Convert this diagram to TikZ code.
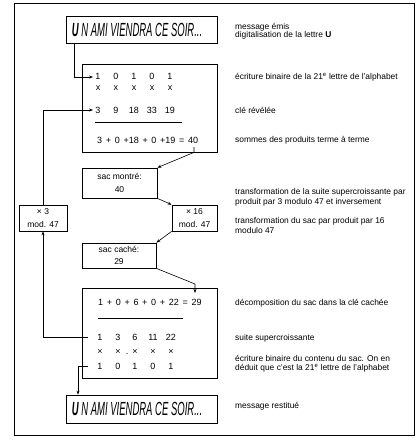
\documentclass[tikz,border=0pt]{standalone}
\usepackage{fontspec}
\setmainfont{Liberation Sans}
\usepackage{graphicx}
\usetikzlibrary{arrows.meta}
\newcommand\eqg{\hspace{3.7pt}}
\newcommand\msgtext{\scalebox{0.5}[1]{\fontsize{19}{19}\selectfont\itshape\textbf{U} N AMI VIENDRA CE SOIR...\hspace*{18pt}}}
\begin{document}
\begin{tikzpicture}[x=1pt,y=-1pt,
  box/.style={draw, line width=0.7pt, inner sep=0pt, anchor=center},
  lab/.style={anchor=base west, inner sep=0pt, font=\fontsize{8.4}{9}\selectfont},
  dig/.style={anchor=base, inner sep=0pt, font=\fontsize{9}{10}\selectfont},
  eqn/.style={anchor=base west, inner sep=0pt, font=\fontsize{9}{10}\selectfont},
  conn/.style={line width=0.6pt},
  arr/.style={conn, -{Stealth[length=4pt,width=3pt]}},
  boxtxt/.style={box, align=center, font=\fontsize{8.5}{12.5}\selectfont}]
\useasboundingbox (0,0) rectangle (420,440);
\draw[line width=1pt] (14,3) rectangle (414,435);

% boxes
\node[box, minimum width=151pt, minimum height=27pt] (msg1) at (141.5,29.5) {\msgtext};
\node[box, minimum width=135pt, minimum height=88pt] (box1) at (149.5,108) {};
\node[boxtxt, minimum width=75pt, minimum height=30pt] (montre) at (119.5,183) {sac montré:\\40};
\node[boxtxt, minimum width=45pt, minimum height=26pt] (x16) at (194.5,218) {× 16\\mod. 47};
\node[boxtxt, minimum width=48pt, minimum height=26pt] (x3) at (43,218) {× 3\\mod. 47};
\node[boxtxt, minimum width=74pt, minimum height=25pt] (cache) at (119,255.5) {sac caché:\\29};
\node[box, minimum width=135pt, minimum height=90pt] (box2) at (149.5,333) {};
\node[box, minimum width=151pt, minimum height=28pt] (msg2) at (141.5,409) {\msgtext};

% top box contents
\foreach \x/\v [count=\i] in {98/1,116/0,134/1,152/0,170/1}
  \node[dig] (ba\i) at (\x,79.5) {\v};
\foreach \x [count=\i] in {98,116,134,152,170}
  \node[dig] (bx\i) at (\x,90) {x};
\foreach \x/\v [count=\i] in {98/3,116/9,134/18,152/33,170/19}
  \node[dig] (bk\i) at (\x,113) {\v};
\draw[conn] (95,122) -- (182,122);
\node[eqn] (eq1) at (97,143.5) {3\eqg+\eqg0\eqg+18\eqg+\eqg0\eqg+19\eqg=\eqg40};

% bottom box contents
\node[eqn] (eq2) at (98,305.5) {1\eqg+\eqg0\eqg+\eqg6\eqg+\eqg0\eqg+\eqg22\eqg=\eqg29};
\draw[conn] (98,318) -- (183,318);
\foreach \x/\v [count=\i] in {100/1,118/3,135/6,153/11,171/22}
  \node[dig] (bs\i) at (\x,340.5) {\v};
\foreach \x [count=\i] in {100,118,135,153,171}
  \node[dig] (by\i) at (\x,354.5) {×};
\node[dig] (bdot) at (127,354.5) {.};
\foreach \x/\v [count=\i] in {100/1,118/0,135/1,153/0,171/1}
  \node[dig] (bb\i) at (\x,369.5) {\v};

% connectors
\coordinate (c1) at (74,77);
\coordinate (c1e) at (93,77);
\draw[arr] (msg1.south -| c1) -- (c1) -- (c1e);
\coordinate (c2e) at (93,110);
\draw[arr] (x3.north) |- (c2e);
\coordinate (c3) at (88,337);
\draw[arr] (c3) -| (x3.south);
\coordinate (c4) at (194,147);
\draw[arr] (c4) -- (box1.south -| c4) -- (montre.north east);
\draw[arr] (montre.south east) -- (x16.north west);
\draw[arr] (x16.south west) -- (cache.north east);
\coordinate (c5) at (195,284);
\coordinate (c5e) at (195,293);
\draw[arr] (cache.south east) -- (c5) -- (c5e);
\coordinate (c6) at (88,366);
\coordinate (c7) at (78,366);
\draw[arr] (c6) -- (c7) -- (c7 |- msg2.north);

% labels
\node[lab] (l1) at (235,29) {message émis};
\node[lab] (l2) at (235,37.5) {digitalisation de la lettre \textbf{U}};
\node[lab] (l3) at (235,79.5) {écriture binaire de la 21\textsuperscript{e} lettre de l'alphabet};
\node[lab] (l4) at (235,113) {clé révélée};
\node[lab] (l5) at (235,142) {sommes des produits terme à terme};
\node[lab] (l6) at (235,194) {transformation de la suite supercroissante par};
\node[lab] (l7) at (235,204) {produit par 3 modulo 47 et inversement};
\node[lab] (l8) at (235,223) {transformation du sac par produit par 16};
\node[lab] (l9) at (235,233) {modulo 47};
\node[lab] (l10) at (235,305.5) {décomposition du sac dans la clé cachée};
\node[lab] (l11) at (235,340) {suite supercroissante};
\node[lab] (l12) at (235,361) {écriture binaire du contenu du sac. On en};
\node[lab] (l13) at (235,370) {déduit que c'est la 21\textsuperscript{e} lettre de l'alphabet};
\node[lab] (l14) at (235,408) {message restitué};
\end{tikzpicture}
\end{document}
